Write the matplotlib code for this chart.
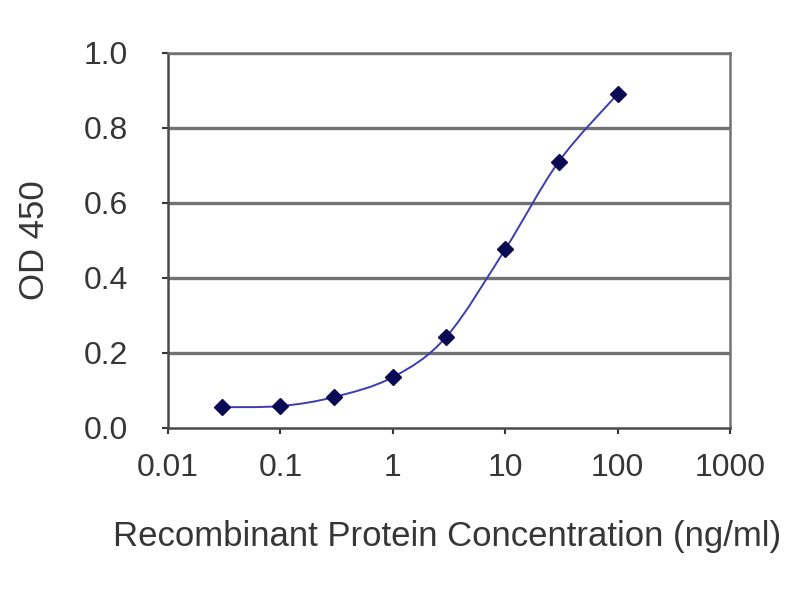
import numpy as np
import matplotlib
matplotlib.use('Agg')
import matplotlib.pyplot as plt
from matplotlib.path import Path
from matplotlib.patches import PathPatch

# data
conc = [0.03, 0.1, 0.3, 1, 3, 10, 30, 100]
od450 = [0.055, 0.058, 0.082, 0.135, 0.243, 0.476, 0.710, 0.890]
x_ticks = [0.01, 0.1, 1, 10, 100, 1000]
x_tick_labels = ['0.01', '0.1', '1', '10', '100', '1000']
y_ticks = [0.0, 0.2, 0.4, 0.6, 0.8, 1.0]

plt.rcParams['font.family'] = ['Liberation Sans', 'DejaVu Sans']
TEXT = '#363636'
GRID = '#727272'

fig = plt.figure(figsize=(8, 6), dpi=100)
ax = fig.add_axes([0.21, 0.287, 0.7025, 0.625])
ax.set_xscale('log')
ax.set_xlim(0.01, 1000)
ax.set_ylim(0, 1.0)

# horizontal gridlines
for yv in y_ticks[1:]:
    ax.axhline(yv, color=GRID, lw=2.4, zorder=1)

# smoothed line (Catmull-Rom -> cubic bezier in log-x space)
lx = np.log10(conc)
ly = np.array(od450)
verts = [(lx[0], ly[0])]
codes = [Path.MOVETO]
n = len(lx)
for i in range(n - 1):
    p0 = (lx[max(i - 1, 0)], ly[max(i - 1, 0)])
    p1 = (lx[i], ly[i])
    p2 = (lx[i + 1], ly[i + 1])
    p3 = (lx[min(i + 2, n - 1)], ly[min(i + 2, n - 1)])
    c1 = (p1[0] + (p2[0] - p0[0]) / 6, p1[1] + (p2[1] - p0[1]) / 6)
    c2 = (p2[0] - (p3[0] - p1[0]) / 6, p2[1] - (p3[1] - p1[1]) / 6)
    verts += [c1, c2, p2]
    codes += [Path.CURVE4] * 3
verts = [(10 ** vx, vy) for vx, vy in verts]
ax.add_patch(PathPatch(Path(verts, codes), facecolor='none',
                       edgecolor='#3c3cb0', lw=1.4, zorder=3))

ax.plot(conc, od450, linestyle='none', marker='D', markersize=8.5,
        color='#0a0a55', zorder=4)

for s in ax.spines.values():
    s.set_color(GRID)
    s.set_linewidth(1.8)
ax.spines['left'].set_color('#4a4a4a')
ax.spines['bottom'].set_color('#4a4a4a')

ax.set_xticks(x_ticks)
ax.set_xticklabels(x_tick_labels)
ax.xaxis.set_minor_locator(matplotlib.ticker.NullLocator())
ax.set_yticks(y_ticks)
ax.set_yticklabels([f'{v:.1f}' for v in y_ticks])
ax.tick_params(axis='both', labelsize=23, colors=TEXT, length=4, width=1.5,
               direction='out')
ax.tick_params(axis='x', pad=14)
ax.tick_params(axis='y', pad=25)
ax.grid(False)

ax.set_xlabel('Recombinant Protein Concentration (ng/ml)', fontsize=25,
              color=TEXT)
ax.set_ylabel('OD 450', fontsize=25, color=TEXT)
ax.xaxis.set_label_coords(0.497, -0.29)
ax.xaxis.label.set_va('center')
ax.yaxis.set_label_coords(-0.237, 0.5)
ax.yaxis.label.set_va('center')

fig.savefig('out.png', dpi=100, facecolor='white')
